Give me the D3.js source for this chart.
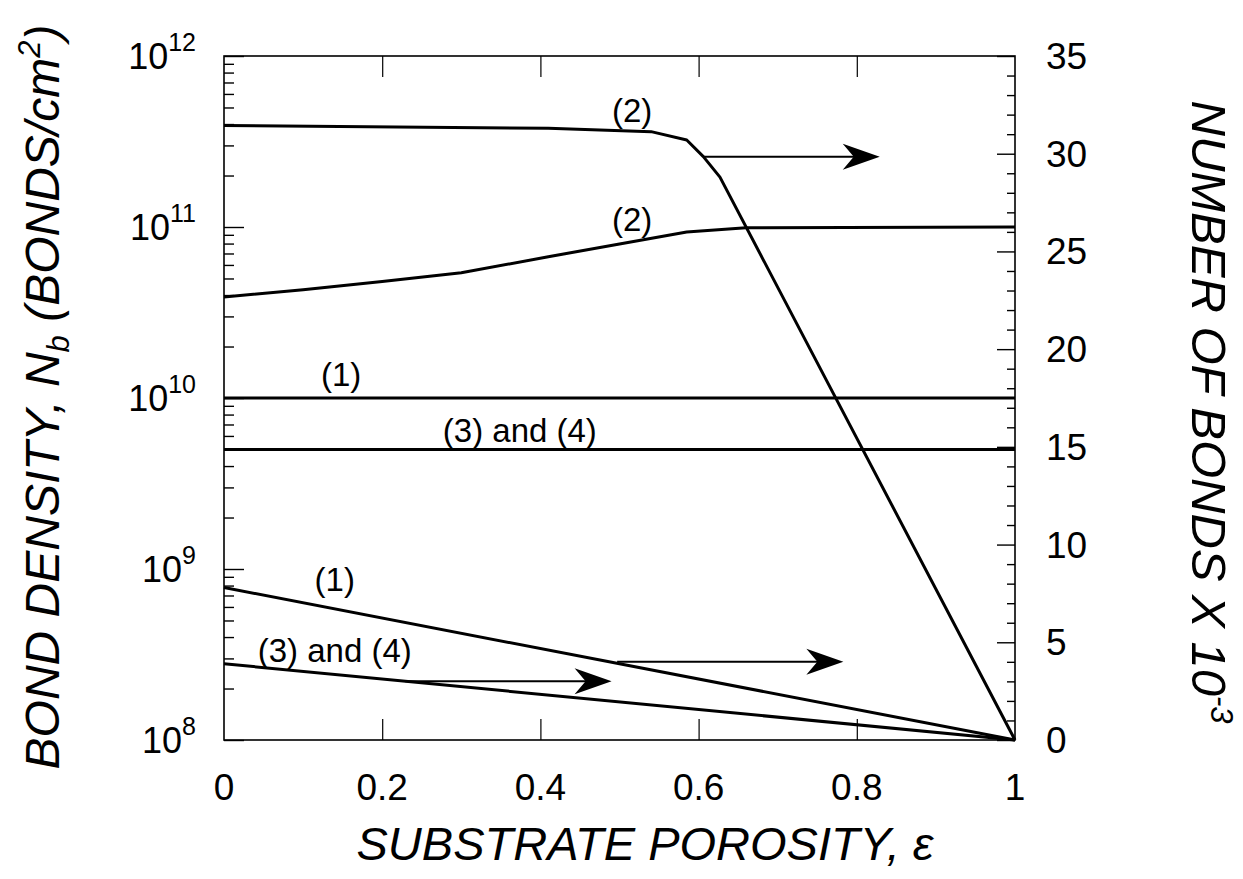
<!DOCTYPE html>
<html><head><meta charset="utf-8">
<script src="https://cdn.jsdelivr.net/npm/d3@7"></script>
<style>
body{margin:0;background:#fff;}
text{font-family:"Liberation Sans",Arial,Helvetica,sans-serif;fill:#000;}
</style>
</head><body>
<svg id="c" width="1243" height="879"></svg>
<script>
// ---------- data ----------
const xTicks = [0, 0.2, 0.4, 0.6, 0.8, 1];
const xTickLabels = ["0", "0.2", "0.4", "0.6", "0.8", "1"];
const leftDecades = [8, 9, 10, 11, 12];
const rightTicks = [0, 5, 10, 15, 20, 25, 30, 35];
const rightTickLabels = ["0", "5", "10", "15", "20", "25", "30", "35"];

// bond density (left, log axis)
const eps2Density = [0, 0.1, 0.2, 0.3, 0.41, 0.5, 0.585, 0.66, 1];
const density2 = [3.9e10, 4.3e10, 4.8e10, 5.4e10, 6.7e10, 7.95e10, 9.35e10, 9.9e10, 1e11];
const eps1Density = [0, 1];
const density1 = [1e10, 1e10];
const eps34Density = [0, 1];
const density34 = [5e9, 5e9];

// number of bonds x 10^-3 (right, linear axis)
const eps2Bonds = [0, 0.41, 0.54, 0.585, 0.606, 0.627, 1];
const bonds2 = [31.45, 31.3, 31.13, 30.7, 29.85, 28.8, 0];
const eps1Bonds = [0, 1];
const bonds1 = [7.8, 0];
const eps34Bonds = [0, 1];
const bonds34 = [3.9, 0];

// arrows (right-axis pointers)
const arrowFrom = [0.606, 0.497, 0.229];
const arrowTo = [0.829, 0.783, 0.49];
const arrowLevel = [29.85, 4.0, 3.0];

// ---------- layout ----------
const L = 224, R = 1015, T = 56, B = 740;
const svg = d3.select("#c");
const x = d3.scaleLinear().domain([0, 1]).range([L, R]);
const yL = d3.scaleLog().domain([1e8, 1e12]).range([B, T]);
const yR = d3.scaleLinear().domain([0, 35]).range([B, T]);

// frame
svg.append("rect").attr("x", L).attr("y", T).attr("width", R - L).attr("height", B - T)
  .attr("fill", "none").attr("stroke", "#000").attr("stroke-width", 1.6);

// x ticks (inward, bottom and top)
const inner = xTicks.filter(v => v > 0 && v < 1);
svg.append("g").attr("transform", `translate(0,${B})`)
  .call(d3.axisBottom(x).tickValues(inner).tickSize(-21).tickFormat(""))
  .call(g => { g.select(".domain").remove(); g.selectAll("line").attr("stroke-width", 1.2); });
svg.append("g").attr("transform", `translate(0,${T})`)
  .call(d3.axisTop(x).tickValues(inner).tickSize(-21).tickFormat(""))
  .call(g => { g.select(".domain").remove(); g.selectAll("line").attr("stroke-width", 1.2); });

// x tick labels
svg.append("g").selectAll("text").data(xTicks).join("text")
  .attr("x", d => x(d)).attr("y", 800).attr("text-anchor", "middle")
  .attr("font-size", 37).text((d, i) => xTickLabels[i]);

// left axis ticks
const minorL = [];
for (let e = 8; e < 12; e++) for (let m = 2; m <= 9; m++) minorL.push(m * Math.pow(10, e));
const majorL = leftDecades.map(e => Math.pow(10, e));
svg.append("g").attr("transform", `translate(${L},0)`)
  .call(d3.axisLeft(yL).tickValues(majorL).tickSize(-20).tickFormat(""))
  .call(g => { g.select(".domain").remove(); g.selectAll("line").attr("stroke-width", 1.4); });
svg.append("g").attr("transform", `translate(${L},0)`)
  .call(d3.axisLeft(yL).tickValues(minorL).tickSize(-10).tickFormat(""))
  .call(g => { g.select(".domain").remove(); g.selectAll("line").attr("stroke-width", 1.4); });

// left tick labels 10^n
const ll = svg.append("g").selectAll("text").data(leftDecades).join("text")
  .attr("x", 196).attr("y", d => yL(Math.pow(10, d)) + 13).attr("text-anchor", "end")
  .attr("font-size", 36);
ll.append("tspan").text("10");
ll.append("tspan").attr("font-size", 25).attr("dy", -18).text(d => d);

// right axis ticks
const minorR = d3.range(0, 36).filter(v => v % 5 !== 0);
svg.append("g").attr("transform", `translate(${R},0)`)
  .call(d3.axisRight(yR).tickValues(rightTicks).tickSize(-18).tickFormat(""))
  .call(g => { g.select(".domain").remove(); g.selectAll("line").attr("stroke-width", 1.4); });
svg.append("g").attr("transform", `translate(${R},0)`)
  .call(d3.axisRight(yR).tickValues(minorR).tickSize(-8).tickFormat(""))
  .call(g => { g.select(".domain").remove(); g.selectAll("line").attr("stroke-width", 1.4); });

svg.append("g").selectAll("text").data(rightTicks).join("text")
  .attr("x", 1046).attr("y", d => yR(d) + 13).attr("text-anchor", "start")
  .attr("font-size", 37).text((d, i) => rightTickLabels[i]);

// ---------- curves ----------
function curve(xs, ys, yScale) {
  const pts = xs.map((e, i) => [x(e), yScale(ys[i])]);
  svg.append("path").attr("d", d3.line()(pts)).attr("fill", "none")
    .attr("stroke", "#000").attr("stroke-width", 3).attr("stroke-linejoin", "round");
}
curve(eps2Density, density2, yL);
curve(eps1Density, density1, yL);
curve(eps34Density, density34, yL);
curve(eps2Bonds, bonds2, yR);
curve(eps1Bonds, bonds1, yR);
curve(eps34Bonds, bonds34, yR);

// arrows
arrowFrom.forEach((a, i) => {
  const x0 = x(a), x1 = x(arrowTo[i]), yy = yR(arrowLevel[i]);
  svg.append("line").attr("x1", x0).attr("x2", x1 - 25).attr("y1", yy).attr("y2", yy)
    .attr("stroke", "#000").attr("stroke-width", 2);
  svg.append("path")
    .attr("d", `M${x1},${yy} L${x1 - 37},${yy - 13} L${x1 - 26},${yy} L${x1 - 37},${yy + 13} Z`)
    .attr("fill", "#000");
});

// curve labels
function label(txt, e, yPix) {
  svg.append("text").attr("x", x(e)).attr("y", yPix).attr("text-anchor", "middle")
    .attr("font-size", 33).text(txt);
}
label("(2)", 0.516, yR(31.6));
label("(2)", 0.516, yL(Math.pow(10, 10.975)));
label("(1)", 0.148, yL(Math.pow(10, 10.07)));
label("(3) and (4)", 0.374, yL(Math.pow(10, 9.743)));
label("(1)", 0.14, yR(7.6));
label("(3) and (4)", 0.14, yR(4.0));

// ---------- axis titles ----------
svg.append("text").attr("x", 645).attr("y", 860).attr("text-anchor", "middle")
  .attr("font-size", 47).attr("font-style", "italic").text("SUBSTRATE POROSITY, ε");

const lt = svg.append("text").attr("transform", "translate(59,397) rotate(-90)")
  .attr("text-anchor", "middle").attr("font-size", 48).attr("font-style", "italic");
lt.append("tspan").text("BOND DENSITY, N");
lt.append("tspan").attr("font-size", 31).attr("dy", 10).text("b");
lt.append("tspan").attr("dy", -10).text(" (BONDS/cm");
lt.append("tspan").attr("font-size", 31).attr("dy", -19).text("2");
lt.append("tspan").attr("dy", 19).text(")");

const rt = svg.append("text").attr("transform", "translate(1192,412) rotate(90)")
  .attr("text-anchor", "middle").attr("font-size", 49).attr("font-style", "italic");
rt.append("tspan").text("NUMBER OF BONDS X 10");
rt.append("tspan").attr("font-size", 31).attr("dy", -19).text("-3");
</script>
</body></html>
